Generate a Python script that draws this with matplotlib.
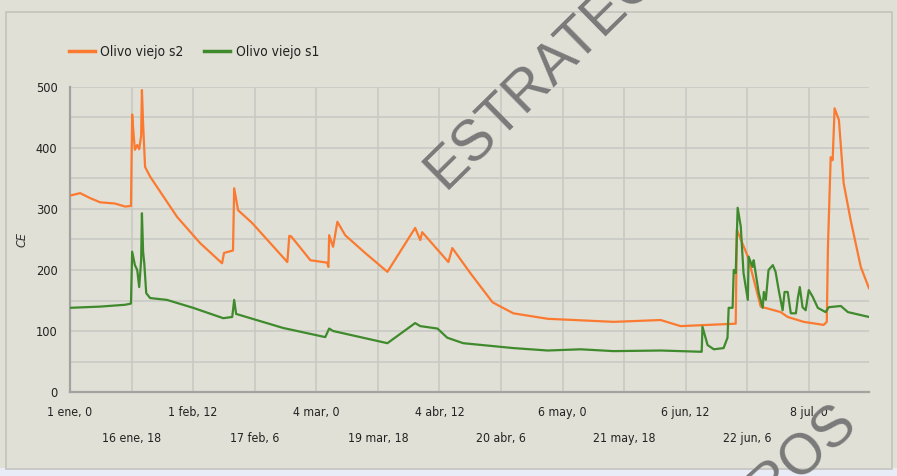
import matplotlib
matplotlib.use("Agg")
import matplotlib.pyplot as plt
from matplotlib import font_manager
from matplotlib.patches import Rectangle
from matplotlib.ticker import FixedLocator, MultipleLocator

# ---------------- data (x = days since 1 ene, 0h) ----------------
s2_days = [0.0, 2.6, 5.1, 7.7, 11.5, 14.1, 15.6, 15.9, 16.3, 16.6, 17.2, 17.7, 18.2, 18.4,
           18.7, 19.2, 20.5, 27.4, 33.3, 38.9, 39.4, 41.7, 42.0, 43.0, 46.6, 55.6, 56.1,
           56.6, 61.5, 65.8, 66.1, 66.3, 67.3, 68.4, 70.4, 75.5, 81.2, 88.3, 89.6, 90.1,
           96.8, 97.8, 102.4, 108.1, 113.4, 122.2, 139.1, 151.1, 156.2, 170.3, 170.6,
           173.4, 176.7, 181.8, 183.6, 187.7, 192.8, 193.6, 193.9, 194.6, 195.1, 195.6,
           196.7, 197.9, 199.7, 202.3, 204.4]
s2_vals = [322, 326, 318, 311, 309, 304, 305, 455, 420, 397, 405, 398, 420, 495,
           440, 369, 353, 287, 244, 211, 228, 232, 334, 298, 277, 213, 256,
           255, 216, 212, 205, 257, 238, 279, 257, 228, 197, 269, 249, 262,
           213, 236, 195, 147, 129, 120, 115, 118, 108, 112, 266,
           222, 140, 131, 123, 115, 110, 115, 238, 385, 380, 465,
           446, 343, 282, 205, 170]

s1_days = [0.0, 7.7, 14.1, 15.6, 15.9, 16.6, 17.2, 17.7, 18.2, 18.4, 18.7, 19.0, 19.5,
           20.5, 24.8, 31.5, 39.2, 41.5, 42.0, 42.5, 54.5, 65.3, 66.3, 67.3, 81.2, 88.3,
           89.6, 94.0, 96.5, 100.6, 113.4, 122.2, 130.6, 139.1, 151.1, 161.3, 161.6,
           161.8, 163.1, 164.7, 167.2, 168.2, 168.5, 169.5, 169.8, 170.3, 170.8, 171.6,
           172.3, 173.4, 173.6, 174.6, 174.9, 176.2, 177.2, 177.5, 178.0, 178.7, 179.8,
           180.5, 181.3, 182.3, 182.8, 183.6, 184.4, 185.7, 186.2, 186.7, 187.4, 188.2,
           189.0, 190.0, 191.3, 193.3, 194.1, 197.2, 199.0, 204.4]
s1_vals = [138, 140, 143, 145, 230, 208, 200, 172, 216, 293, 230, 211, 162,
           154, 151, 138, 121, 123, 151, 128, 105, 90, 104, 100, 80, 113,
           108, 104, 89, 80, 72, 68, 70, 67, 68, 66, 66,
           107, 77, 70, 72, 89, 138, 138, 200, 195, 302, 271,
           195, 151, 222, 205, 216, 162, 138, 164, 151, 200, 208,
           197, 167, 134, 164, 164, 129, 129, 154, 172, 139, 134,
           167, 156, 138, 131, 139, 141, 131, 123]

tick_labels = ["1 ene, 0", "16 ene, 18", "1 feb, 12", "17 feb, 6", "4 mar, 0",
               "19 mar, 18", "4 abr, 12", "20 abr, 6", "6 may, 0", "21 may, 18",
               "6 jun, 12", "22 jun, 6", "8 jul, 0"]
tick_step_days = 15.75
y_ticks = [0, 100, 200, 300, 400, 500]
series_names = ["Olivo viejo s2", "Olivo viejo s1"]

# ---------------- fonts ----------------
avail = [(f.name, f.stretch) for f in font_manager.fontManager.ttflist]
names = {n for n, _ in avail}
STRETCH = "normal"
if "Liberation Sans Narrow" in names:
    FONT = ["Liberation Sans Narrow", "DejaVu Sans"]
    SCALE = 1.0
elif any(n == "DejaVu Sans" and s != "normal" for n, s in avail):
    FONT = ["DejaVu Sans"]
    STRETCH = "condensed"
    SCALE = 0.85
else:
    FONT = ["Liberation Sans", "DejaVu Sans"]
    SCALE = 0.8
plt.rcParams["font.family"] = FONT
plt.rcParams["font.stretch"] = STRETCH

# ---------------- style ----------------
BG = "#e0e0d6"
GRID = "#c8c8c4"
ORANGE = "#fb7a30"
GREEN = "#3f8a2c"
WM = "#7a7a7a"

W, H = 897, 476
fig = plt.figure(figsize=(W / 100, H / 100), dpi=100, facecolor=BG)

fig.patches.append(Rectangle((0, 0), 1, 8 / H, transform=fig.transFigure,
                             facecolor="#e7ecf6", edgecolor="none", zorder=0))
fig.patches.append(Rectangle((6 / W, 7 / H), (892 - 6) / W, (464 - 7) / H,
                             transform=fig.transFigure, facecolor="none",
                             edgecolor="#c4c4bc", linewidth=1.2, zorder=1))

ax = fig.add_axes([70 / W, (H - 392) / H, (869 - 70) / W, (392 - 87) / H])
ax.set_facecolor(BG)

ax.plot(s2_days, s2_vals, color=ORANGE, lw=1.6, label=series_names[0], zorder=3)
ax.plot(s1_days, s1_vals, color=GREEN, lw=1.6, label=series_names[1], zorder=3)

ax.set_xlim(0, 204.4)
ax.set_ylim(0, 500)

tsize = 10.4 * SCALE
tick_pos = [i * tick_step_days for i in range(len(tick_labels))]
ax.xaxis.set_major_locator(FixedLocator(tick_pos[0::2]))
ax.xaxis.set_minor_locator(FixedLocator(tick_pos[1::2]))
ax.set_xticklabels(tick_labels[0::2])
ax.set_xticklabels(tick_labels[1::2], minor=True)
ax.tick_params(axis="x", which="major", length=0, pad=10, labelsize=tsize, colors="#222222")
ax.tick_params(axis="x", which="minor", length=0, pad=29, labelsize=tsize, colors="#222222")

ax.yaxis.set_major_locator(FixedLocator(y_ticks))
ax.yaxis.set_minor_locator(MultipleLocator(50))
ax.tick_params(axis="y", which="both", length=0, pad=9, labelsize=10.8 * SCALE, colors="#222222")

ax.grid(True, which="both", color=GRID, lw=1.1, zorder=0)
ax.set_axisbelow(True)
for s in ["top", "right"]:
    ax.spines[s].set_visible(False)
for s in ["left", "bottom"]:
    ax.spines[s].set_color("#a2a2a0")
    ax.spines[s].set_linewidth(1.6)

ax.set_ylabel("CE", fontsize=9, style="italic", color="#333333", labelpad=5)

fig.legend(loc="center left", bbox_to_anchor=(69 / W, 1 - 52 / H),
           bbox_transform=fig.transFigure, ncol=2, frameon=False,
           fontsize=11.6 * SCALE, handlelength=1.9, handletextpad=0.4,
           columnspacing=1.5, borderpad=0, borderaxespad=0)
for t in fig.legends[0].get_texts():
    t.set_color("#222222")
for l in fig.legends[0].get_lines():
    l.set_linewidth(2.5)

# watermark
fig.text(445 / W, 1 - 191 / H, "ESTRATEGIAS", rotation=44.5, rotation_mode="anchor",
         ha="left", va="baseline", fontsize=41, color=WM,
         family=["Liberation Sans", "DejaVu Sans"], fontstretch="normal", zorder=10)
fig.text(803 / W, 1 - 455 / H, "ROS", rotation=42, rotation_mode="anchor",
         ha="center", va="center", fontsize=41, color=WM,
         family=["Liberation Sans", "DejaVu Sans"], fontstretch="normal", zorder=10)

fig.savefig("out.png", dpi=100, facecolor=BG)
